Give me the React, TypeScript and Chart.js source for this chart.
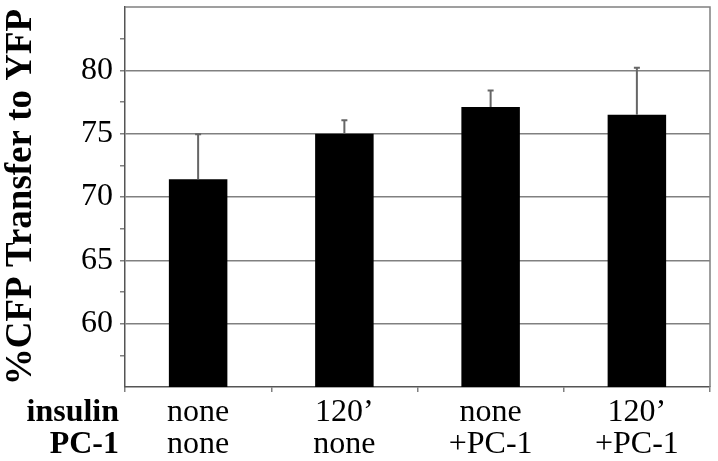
import React, { useEffect, useRef } from "react";
import { Chart, registerables } from "chart.js";

Chart.register(...registerables);

const insulinLabels = ["none", "120\u2019", "none", "120\u2019"];
const pc1Labels = ["none", "none", "+PC-1", "+PC-1"];
const meanValues = [71.4, 75.0, 77.1, 76.5];
const errorValues = [3.55, 1.05, 1.3, 3.7];
const rowLabels = ["insulin", "PC-1"];
const yTickValues = [60, 65, 70, 75, 80];
const yTitle = "%CFP Transfer to YFP";

const SERIF = "'Liberation Serif', 'Times New Roman', serif";

const errorBarPlugin = {
  id: "errorBars",
  afterDatasetsDraw(chart: any) {
    const meta = chart.getDatasetMeta(0);
    const y = chart.scales.y;
    const ctx = chart.ctx;
    ctx.save();
    ctx.strokeStyle = "#666";
    ctx.lineWidth = 2;
    meta.data.forEach((bar: any, i: number) => {
      const top = y.getPixelForValue(meanValues[i] + errorValues[i]);
      const base = y.getPixelForValue(meanValues[i]);
      ctx.beginPath();
      ctx.moveTo(bar.x, base);
      ctx.lineTo(bar.x, top);
      ctx.moveTo(bar.x - 3, top);
      ctx.lineTo(bar.x + 3, top);
      ctx.stroke();
    });
    ctx.restore();
  },
};

const framePlugin = {
  id: "frame",
  afterDraw(chart: any) {
    const { left, right, top, bottom } = chart.chartArea;
    const ctx = chart.ctx;
    ctx.save();
    ctx.strokeStyle = "#808080";
    ctx.lineWidth = 1.5;
    ctx.beginPath();
    ctx.moveTo(left, top);
    ctx.lineTo(right, top);
    ctx.lineTo(right, bottom);
    ctx.stroke();
    ctx.restore();
  },
};

const rowLabelPlugin = {
  id: "rowLabels",
  afterDraw(chart: any) {
    const { left, bottom } = chart.chartArea;
    const ctx = chart.ctx;
    ctx.save();
    ctx.fillStyle = "#000";
    ctx.font = `bold 32px ${SERIF}`;
    ctx.textAlign = "right";
    ctx.textBaseline = "alphabetic";
    rowLabels.forEach((t, i) => {
      ctx.fillText(t, left - 6, bottom + 34 + i * 32);
    });
    ctx.restore();
  },
};

export default function App() {
  const ref = useRef<HTMLCanvasElement>(null);
  useEffect(() => {
    if (!ref.current) return;
    const chart = new Chart(ref.current, {
      type: "bar",
      data: {
        labels: insulinLabels.map((a, i) => [a, pc1Labels[i]]),
        datasets: [
          {
            data: meanValues,
            backgroundColor: "#000",
            borderWidth: 0,
            barPercentage: 0.4,
            categoryPercentage: 1,
          },
        ],
      },
      options: {
        animation: false,
        responsive: true,
        maintainAspectRatio: false,
        layout: { padding: { top: 7, right: 8, left: 0, bottom: 0 } },
        plugins: { legend: { display: false }, tooltip: { enabled: false } },
        scales: {
          x: {
            grid: {
              offset: true,
              drawOnChartArea: false,
              tickLength: 5,
              tickColor: "#808080",
              lineWidth: 1.5,
            },
            border: { color: "#555", width: 1.5 },
            ticks: {
              color: "#000",
              font: { family: SERIF, size: 32, lineHeight: 1.0 },
              padding: 5,
              maxRotation: 0,
              autoSkip: false,
            },
            afterFit(scale: any) {
              scale.height = 74;
              scale.paddingLeft = 0;
              scale.paddingRight = 0;
            },
          },
          y: {
            min: 55,
            max: 85,
            ticks: {
              stepSize: 2.5,
              autoSkip: false,
              color: "#000",
              padding: 7,
              font: { family: SERIF, size: 32 },
              callback: (v: any) => {
                const n = Number(v);
                if (n <= 55 || n >= 85) return null;
                return yTickValues.includes(n) ? String(n) : "";
              },
            },
            grid: {
              tickLength: 5,
              tickColor: "#808080",
              lineWidth: 1.5,
              color: (c: any) =>
                c.tick && yTickValues.includes(c.tick.value) ? "#808080" : "rgba(0,0,0,0)",
            },
            border: { color: "#555", width: 1.5 },
            title: {
              display: true,
              text: yTitle,
              color: "#000",
              font: { family: SERIF, size: 37, weight: "bold", lineHeight: 1.15 },
              padding: 0,
            },
            afterFit(scale: any) {
              scale.width = 125;
              scale.paddingTop = 0;
              scale.paddingBottom = 0;
            },
          },
        },
      },
      plugins: [errorBarPlugin, framePlugin, rowLabelPlugin],
    } as any);
    return () => chart.destroy();
  }, []);
  return (
    <div style={{ position: "fixed", left: 0, top: 0, width: 718, height: 461, background: "#fff" }}>
      <canvas ref={ref} />
    </div>
  );
}
